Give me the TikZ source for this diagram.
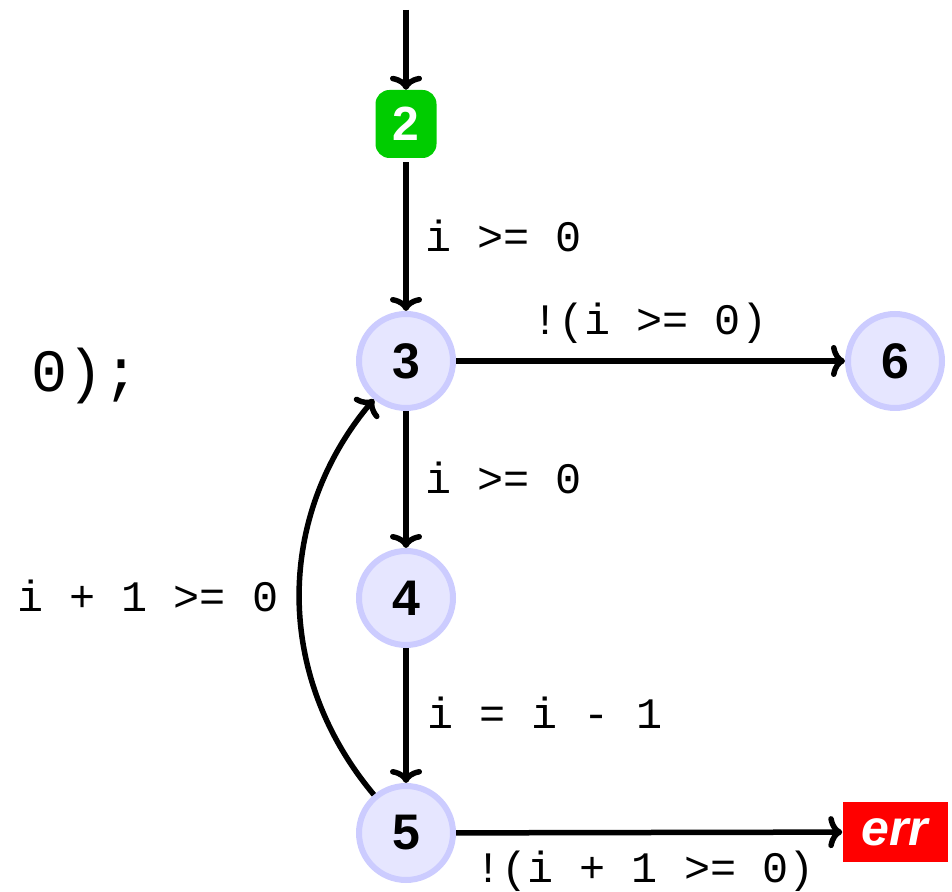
\documentclass[tikz,border=0pt]{standalone}
\usepackage{fontspec}
\setmainfont{Liberation Sans}
\newfontfamily\monofont{Liberation Mono}
\usetikzlibrary{arrows.meta}
\definecolor{circfill}{RGB}{230,230,255}
\definecolor{circline}{RGB}{204,204,255}
\definecolor{startgreen}{RGB}{0,204,0}
\definecolor{errred}{RGB}{255,0,0}
\begin{document}
\begin{tikzpicture}[x=1pt,y=1pt,
  state/.style={circle, draw=circline, fill=circfill, line width=6pt, minimum size=94pt, inner sep=0pt, font=\fontsize{50}{50}\selectfont\bfseries},
  startbox/.style={rectangle, rounded corners=14pt, fill=startgreen, minimum width=61pt, minimum height=68pt, inner sep=0pt, text=white, font=\fontsize{48}{48}\selectfont\bfseries},
  errbox/.style={rectangle, fill=errred, minimum width=105pt, minimum height=60pt, inner sep=0pt, text=white, font=\fontsize{50}{50}\selectfont\bfseries\itshape},
  edge/.style={line width=5.5pt, -{To[length=14pt,width=32pt]}},
  lbl/.style={anchor=base west, inner sep=0pt, font=\monofont\fontsize{43.5}{44}\selectfont},
]
\useasboundingbox (0,0) rectangle (952,891);
\coordinate (top) at (406,881);
\node[startbox] (n2) at (406,767) {2};
\node[state] (n3) at (406,530) {3};
\node[state] (n6) at (895,530) {6};
\node[state] (n4) at (406,293) {4};
\node[state] (n5) at (406,58) {5};
\node[errbox] (err) at (895,59) {err};

\draw[edge] (top) -- (n2);
\draw[edge, shorten <=4pt] (n2) -- (n3);
\draw[edge] (n3) -- (n6);
\draw[edge] (n3) -- (n4);
\draw[edge] (n4) -- (n5);
\draw[edge] (n5) to[bend left=40] (n3);
\draw[edge] (n5) -- (err);

\node[lbl] (l23) at (425,639) {i >= 0};
\node[lbl] (l36) at (532,556) {!(i >= 0)};
\node[lbl] (l34) at (425,397) {i >= 0};
\node[lbl] (l53) at (17,279) {i + 1 >= 0};
\node[lbl] (l45) at (427,162) {i = i - 1};
\node[lbl] (l5e) at (475,9) {!(i + 1 >= 0)};
\node[anchor=base west, inner sep=0pt, font=\monofont\fontsize{60}{60}\selectfont] (frag) at (31,499) {0);};
\end{tikzpicture}
\end{document}
